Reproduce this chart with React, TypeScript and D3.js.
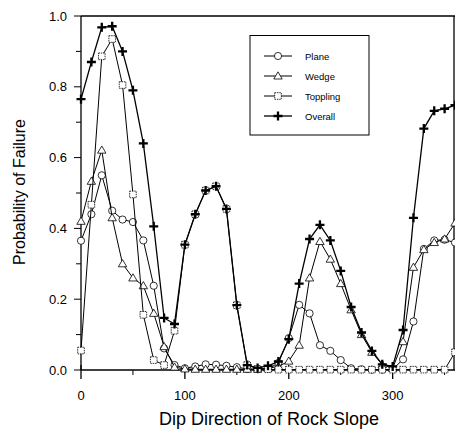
import React, { useEffect, useRef } from 'react';
import * as d3 from 'd3';

// dip direction (degrees)
const dipDirections = [0, 10, 20, 30, 40, 50, 60, 70, 80, 90, 100, 110, 120, 130, 140, 150, 160, 170, 180,
  190, 200, 210, 220, 230, 240, 250, 260, 270, 280, 290, 300, 310, 320, 330, 340, 350, 360];

const plane = [0.365, 0.44, 0.55, 0.45, 0.425, 0.418, 0.366, 0.238, 0.061, 0.014, 0.005, 0.01, 0.016, 0.015, 0.012,
  0.008, 0.003, 0.002, 0.003, 0.02, 0.09, 0.184, 0.16, 0.07, 0.054, 0.028, 0.005, 0.002, 0.001, 0.001, 0.002,
  0.03, 0.137, 0.342, 0.366, 0.368, 0.36];
const wedge = [0.42, 0.533, 0.621, 0.43, 0.3, 0.26, 0.238, 0.16, 0.066, 0.008, 0.003, 0.002, 0.002, 0.002, 0.002,
  0.002, 0.002, 0.002, 0.005, 0.01, 0.025, 0.07, 0.26, 0.363, 0.313, 0.244, 0.17, 0.1, 0.05, 0.015, 0.005,
  0.08, 0.29, 0.34, 0.36, 0.37, 0.415];
const toppling = [0.055, 0.467, 0.886, 0.935, 0.805, 0.496, 0.156, 0.028, 0.014, 0.111, 0.354, 0.44, 0.507, 0.519,
  0.455, 0.183, 0.014, 0.003, 0.002, 0.001, 0.001, 0.001, 0.001, 0.001, 0.001, 0.001, 0.001, 0.001, 0.001, 0.001,
  0.001, 0.001, 0.001, 0.001, 0.001, 0.001, 0.05];
const overall = [0.765, 0.87, 0.968, 0.971, 0.9, 0.79, 0.64, 0.406, 0.147, 0.13, 0.354, 0.44, 0.507, 0.519, 0.455,
  0.183, 0.014, 0.006, 0.012, 0.024, 0.087, 0.244, 0.37, 0.41, 0.366, 0.28, 0.178, 0.106, 0.054, 0.016, 0.01,
  0.113, 0.43, 0.682, 0.732, 0.738, 0.748];

const seriesNames = ['Plane', 'Wedge', 'Toppling', 'Overall'];
const xTicks = [0, 100, 200, 300];
const yTicks = [0, 0.2, 0.4, 0.6, 0.8, 1.0];

const FONT = 'Liberation Sans, Arial, Helvetica, sans-serif';

function drawMarker(g, kind, x, y) {
  if (kind === 'Plane') {
    g.append('circle').attr('cx', x).attr('cy', y).attr('r', 3.6)
      .attr('fill', 'white').attr('stroke', 'black').attr('stroke-width', 0.8);
  } else if (kind === 'Wedge') {
    g.append('path').attr('d', `M${x},${y - 4.2}L${x + 4.2},${y + 3}L${x - 4.2},${y + 3}Z`)
      .attr('fill', 'white').attr('stroke', 'black').attr('stroke-width', 0.8);
  } else if (kind === 'Toppling') {
    g.append('rect').attr('x', x - 3.3).attr('y', y - 3.3).attr('width', 6.6).attr('height', 6.6)
      .attr('fill', 'white').attr('stroke', 'black').attr('stroke-width', 0.8).attr('stroke-dasharray', '1.5,0.8');
  } else {
    g.append('path').attr('d', `M${x - 4.5},${y}L${x + 4.5},${y}M${x},${y - 4.5}L${x},${y + 4.5}`)
      .attr('stroke', 'black').attr('stroke-width', 2.3);
  }
}

function Chart() {
  const ref = useRef(null);
  const width = 455;
  const height = 432;

  useEffect(() => {
    const svg = d3.select(ref.current);
    svg.selectAll('*').remove();

    const x = d3.scaleLinear().domain([0, 360]).range([81, 455]);
    const y = d3.scaleLinear().domain([0, 1]).range([370, 16]);

    const frame = svg.append('g');
    // frame lines (left, bottom, top, right)
    frame.append('line').attr('x1', 81).attr('x2', 81).attr('y1', y(1)).attr('y2', y(0))
      .attr('stroke', 'black').attr('stroke-width', 1.3);
    frame.append('line').attr('x1', 81).attr('x2', 455).attr('y1', y(0)).attr('y2', y(0))
      .attr('stroke', 'black').attr('stroke-width', 1.3);
    frame.append('line').attr('x1', 81).attr('x2', 455).attr('y1', y(1)).attr('y2', y(1))
      .attr('stroke', 'black').attr('stroke-width', 1.3);
    frame.append('line').attr('x1', 454).attr('x2', 454).attr('y1', y(1)).attr('y2', y(0))
      .attr('stroke', 'black').attr('stroke-width', 1.3);

    // y ticks
    d3.range(0, 11).forEach(i => {
      const v = i / 10;
      const major = i % 2 === 0;
      frame.append('line').attr('x1', 81 - (major ? 7 : 5)).attr('x2', 81)
        .attr('y1', y(v)).attr('y2', y(v)).attr('stroke', 'black').attr('stroke-width', 1);
    });
    frame.selectAll('.ylab').data(yTicks).enter().append('text')
      .attr('x', 67).attr('y', d => y(d) + 4.5)
      .attr('text-anchor', 'end').attr('font-family', FONT).attr('font-size', 13)
      .text(d => d.toFixed(1));

    // x ticks
    xTicks.forEach(t => {
      frame.append('line').attr('x1', x(t)).attr('x2', x(t)).attr('y1', y(0) - 5).attr('y2', y(0) + 9)
        .attr('stroke', 'black').attr('stroke-width', 1.3);
    });
    [50, 150, 250, 350].forEach(t => {
      frame.append('line').attr('x1', x(t)).attr('x2', x(t)).attr('y1', y(0)).attr('y2', y(0) + 5)
        .attr('stroke', 'black').attr('stroke-width', 1);
    });
    frame.selectAll('.xlab').data(xTicks).enter().append('text')
      .attr('x', d => x(d)).attr('y', 400)
      .attr('text-anchor', 'middle').attr('font-family', FONT).attr('font-size', 13)
      .text(d => d);

    // axis titles
    svg.append('text').attr('x', 269).attr('y', 425).attr('text-anchor', 'middle')
      .attr('font-family', FONT).attr('font-size', 18).text('Dip Direction of Rock Slope');
    svg.append('text').attr('transform', 'translate(25,192) rotate(-90)').attr('text-anchor', 'middle')
      .attr('font-family', FONT).attr('font-size', 16).text('Probability of Failure');

    const all = [plane, wedge, toppling, overall];
    all.forEach((vals, si) => {
      const pts = dipDirections.map((d, i) => [x(d), y(vals[i])]);
      svg.append('path')
        .attr('d', d3.line()(pts))
        .attr('fill', 'none').attr('stroke', 'black')
        .attr('stroke-width', si === 3 ? 1.3 : 1);
      const mg = svg.append('g');
      pts.forEach(p => drawMarker(mg, seriesNames[si], p[0], p[1]));
    });

    // legend
    const lg = svg.append('g');
    lg.append('rect').attr('x', 250).attr('y', 35.5).attr('width', 119).attr('height', 99.5)
      .attr('fill', 'white').attr('stroke', 'black').attr('stroke-width', 1);
    seriesNames.forEach((name, i) => {
      const ly = 56 + i * 20;
      lg.append('line').attr('x1', 264).attr('x2', 292).attr('y1', ly).attr('y2', ly)
        .attr('stroke', 'black').attr('stroke-width', i === 3 ? 1.3 : 1);
      drawMarker(lg, name, 278, ly);
      lg.append('text').attr('x', 305).attr('y', ly + 3.5)
        .attr('font-family', FONT).attr('font-size', 9.5).text(name);
    });
  }, []);

  return (
    <svg ref={ref} width={width} height={height}
      style={{ position: 'absolute', left: 0, top: 0, background: 'white' }} />
  );
}

export default function App() {
  return <Chart />;
}
